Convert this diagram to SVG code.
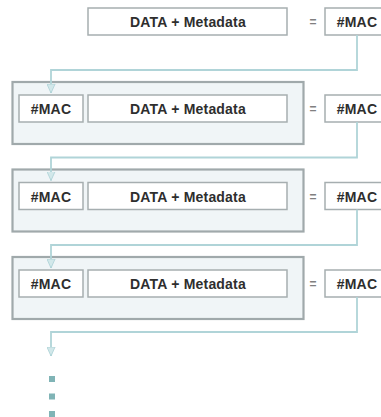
<svg xmlns="http://www.w3.org/2000/svg" width="381" height="417" viewBox="0 0 381 417">
  <defs>
    <style>
      .frame { fill: #f0f5f7; stroke: #a0a9ab; stroke-width: 2.2; }
      .cell { fill: #ffffff; stroke: #a6aeb0; stroke-width: 1.5; }
      .label { font-family: "Liberation Sans", Arial, sans-serif; font-weight: bold; font-size: 14px; fill: #2e2e2e; text-anchor: middle; letter-spacing: 0.2px; }
      .eq { font-family: "Liberation Sans", Arial, sans-serif; font-weight: bold; font-size: 12px; fill: #808080; text-anchor: middle; }
      .link { fill: none; stroke: #b0d4d8; stroke-width: 1.8; marker-end: url(#head); }
      .dot { fill: #80b4b6; }
    </style>
    <marker id="head" viewBox="0 0 10 10" refX="10" refY="5" markerWidth="9" markerHeight="9" markerUnits="userSpaceOnUse" orient="auto">
      <path d="M0,0.5 L10,5 L0,9.5 z" fill="#d2e8ea" stroke="#b0d4d8" stroke-width="1"/>
    </marker>
  </defs>

  <!-- first block: data and its MAC -->
  <g id="block1">
    <rect class="cell" x="88" y="8" width="199" height="27"/>
    <text class="label" x="188" y="27">DATA + Metadata</text>
    <text class="eq" x="313" y="26">=</text>
  </g>
  <g id="mac1">
    <rect class="cell" x="325" y="8" width="64" height="27"/>
    <text class="label" x="357" y="27">#MAC</text>
  </g>

  <!-- chained blocks: previous MAC + data -->
  <g id="block2">
    <rect class="frame" x="12.5" y="82" width="291" height="62"/>
    <rect class="cell" x="19" y="95" width="64" height="27"/>
    <text class="label" x="51" y="114">#MAC</text>
    <rect class="cell" x="88" y="95" width="199" height="27"/>
    <text class="label" x="188" y="114">DATA + Metadata</text>
    <text class="eq" x="313" y="113">=</text>
  </g>
  <g id="mac2">
    <rect class="cell" x="325" y="95" width="64" height="27"/>
    <text class="label" x="357" y="114">#MAC</text>
  </g>

  <g id="block3">
    <rect class="frame" x="12.5" y="169.5" width="291" height="62"/>
    <rect class="cell" x="19" y="182.5" width="64" height="27"/>
    <text class="label" x="51" y="201.5">#MAC</text>
    <rect class="cell" x="88" y="182.5" width="199" height="27"/>
    <text class="label" x="188" y="201.5">DATA + Metadata</text>
    <text class="eq" x="313" y="200.5">=</text>
  </g>
  <g id="mac3">
    <rect class="cell" x="325" y="182.5" width="64" height="27"/>
    <text class="label" x="357" y="201.5">#MAC</text>
  </g>

  <g id="block4">
    <rect class="frame" x="12.5" y="257" width="291" height="62"/>
    <rect class="cell" x="19" y="270" width="64" height="27"/>
    <text class="label" x="51" y="289">#MAC</text>
    <rect class="cell" x="88" y="270" width="199" height="27"/>
    <text class="label" x="188" y="289">DATA + Metadata</text>
    <text class="eq" x="313" y="288">=</text>
  </g>
  <g id="mac4">
    <rect class="cell" x="325" y="270" width="64" height="27"/>
    <text class="label" x="357" y="289">#MAC</text>
  </g>

  <!-- MAC feeds into the next block -->
  <g id="connectors">
    <path class="link" d="M357 35 V70 H51 V93"/>
    <path class="link" d="M357 122 V157.5 H51 V180.5"/>
    <path class="link" d="M357 209.5 V245 H51 V268"/>
    <path class="link" d="M357 297 V332 H51 V356"/>
  </g>

  <!-- continuation dots -->
  <g id="ellipsis">
    <rect class="dot" x="49" y="376" width="6" height="6"/>
    <rect class="dot" x="49" y="393.5" width="6" height="6"/>
    <rect class="dot" x="49" y="411" width="6" height="6"/>
  </g>
</svg>
